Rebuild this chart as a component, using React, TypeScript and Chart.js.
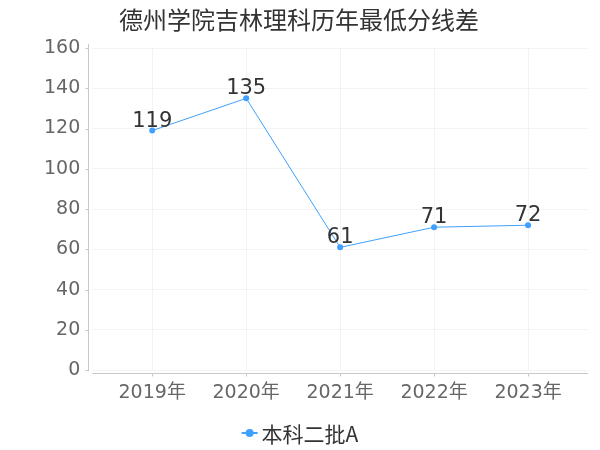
import React, { useEffect, useRef } from "react";
import { Chart, registerables } from "chart.js";

Chart.register(...registerables);

const titleText = "德州学院吉林理科历年最低分线差";
const categories = ["2019年", "2020年", "2021年", "2022年", "2023年"];
const seriesName = "本科二批A";
const seriesValues = [119, 135, 61, 71, 72];
const yTicks = [0, 20, 40, 60, 80, 100, 120, 140, 160];

const FONT = "'DejaVu Sans', 'Noto Sans CJK SC', sans-serif";
const TITLE_FONT = "'Noto Sans CJK SC', sans-serif";
const LINE_COLOR = "#3fa0ff";

const decorPlugin = {
  id: "decor",
  afterDatasetsDraw(chart: any) {
    const { ctx, chartArea } = chart;
    const meta = chart.getDatasetMeta(0);
    const xs = chart.scales.x;
    const ys = chart.scales.y;
    ctx.save();
    // title
    ctx.fillStyle = "#333";
    ctx.font = `24px ${TITLE_FONT}`;
    ctx.textAlign = "center";
    ctx.textBaseline = "middle";
    ctx.fillText(titleText, 299, 20);
    // axis lines
    ctx.strokeStyle = "#c8c8c8";
    ctx.lineWidth = 1;
    const ax = Math.round(chartArea.left - 4) + 0.5;
    ctx.beginPath();
    ctx.moveTo(ax, chartArea.top - 4);
    ctx.lineTo(ax, chartArea.bottom + 1);
    ctx.stroke();
    yTicks.forEach((v) => {
      const y = Math.round(ys.getPixelForValue(v)) + 0.5;
      ctx.beginPath();
      ctx.moveTo(ax - 3, y);
      ctx.lineTo(ax, y);
      ctx.stroke();
    });
    const ay = Math.round(chartArea.bottom + 3) + 0.5;
    ctx.beginPath();
    ctx.moveTo(chartArea.left, ay);
    ctx.lineTo(chartArea.right, ay);
    ctx.stroke();
    categories.forEach((_, i) => {
      const x = Math.round(xs.getPixelForValue(i)) + 0.5;
      ctx.beginPath();
      ctx.moveTo(x, ay);
      ctx.lineTo(x, ay + 3);
      ctx.stroke();
    });
    // data labels
    ctx.fillStyle = "#333";
    ctx.font = `21px ${FONT}`;
    ctx.textAlign = "center";
    ctx.textBaseline = "alphabetic";
    meta.data.forEach((pt: any, i: number) => {
      ctx.fillText(String(seriesValues[i]), pt.x, pt.y - 4);
    });
    // legend
    ctx.font = `21px ${TITLE_FONT}`;
    const tw = ctx.measureText(seriesName).width;
    const total = 16 + 4 + tw;
    const cx = chart.width / 2;
    const x0 = cx - total / 2;
    const y = 433;
    ctx.strokeStyle = LINE_COLOR;
    ctx.lineWidth = 2;
    ctx.beginPath();
    ctx.moveTo(x0, y);
    ctx.lineTo(x0 + 16, y);
    ctx.stroke();
    ctx.fillStyle = LINE_COLOR;
    ctx.beginPath();
    ctx.arc(x0 + 8, y, 4, 0, Math.PI * 2);
    ctx.fill();
    ctx.fillStyle = "#333";
    ctx.textAlign = "left";
    ctx.textBaseline = "middle";
    ctx.fillText(seriesName, x0 + 20, y + 1);
    ctx.restore();
  },
};

export default function App() {
  const ref = useRef<HTMLCanvasElement>(null);
  useEffect(() => {
    if (!ref.current) return;
    const chart = new Chart(ref.current, {
      type: "line",
      data: {
        datasets: [
          {
            label: seriesName,
            data: seriesValues.map((v, i) => ({ x: i, y: v })),
            borderColor: LINE_COLOR,
            backgroundColor: LINE_COLOR,
            borderWidth: 1,
            pointRadius: 3,
            pointBackgroundColor: LINE_COLOR,
            pointBorderWidth: 0,
            tension: 0,
          },
        ],
      },
      options: {
        animation: false,
        responsive: false,
        layout: { padding: { left: 32, right: 12, top: 48, bottom: 35 } },
        plugins: {
          legend: { display: false },
          tooltip: { enabled: false },
          title: { display: false },
        },
        scales: {
          x: {
            type: "linear",
            min: -0.638,
            max: 4.638,
            afterBuildTicks: (scale: any) => {
              scale.ticks = categories.map((_, i) => ({ value: i }));
            },
            ticks: {
              callback: (v: any) => categories[v] ?? "",
              color: "#666",
              font: { family: FONT, size: 19 },
              padding: 11,
              maxRotation: 0,
            },
            grid: { color: "#f3f3f3", drawTicks: false },
            border: { display: false },
          },
          y: {
            min: 0,
            max: 160,
            afterBuildTicks: (scale: any) => {
              scale.ticks = yTicks.map((v) => ({ value: v }));
            },
            ticks: {
              color: "#666",
              font: { family: FONT, size: 19 },
              padding: 12,
            },
            grid: { color: "#f3f3f3", drawTicks: false },
            border: { display: false },
          },
        },
      },
      plugins: [decorPlugin],
    });
    return () => chart.destroy();
  }, []);
  return (
    <div style={{ position: "fixed", left: 0, top: 0, width: 600, height: 450, background: "#fff" }}>
      <canvas ref={ref} width={600} height={450} style={{ width: 600, height: 450 }} />
    </div>
  );
}
